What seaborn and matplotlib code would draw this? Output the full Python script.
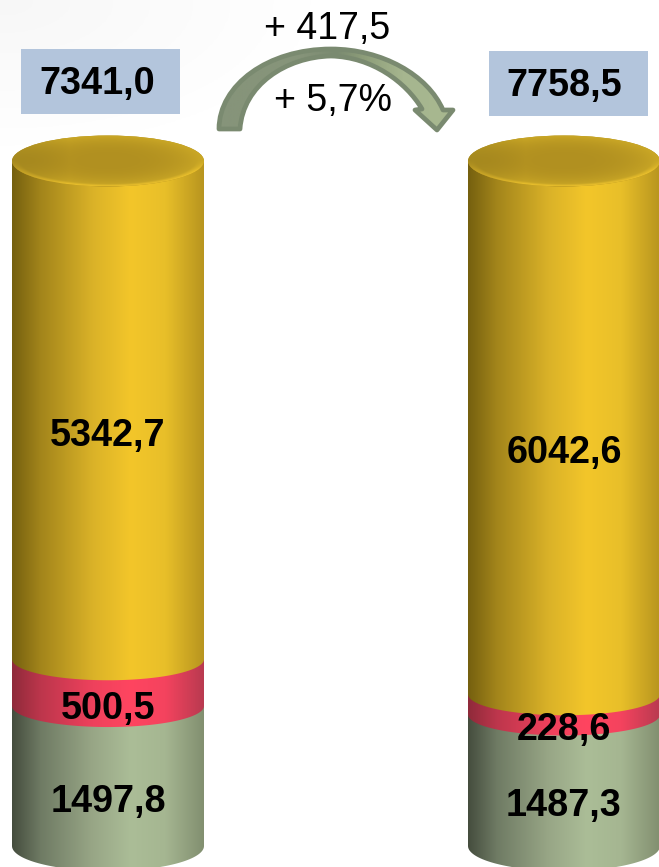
import numpy as np
import pandas as pd
import seaborn as sns
import matplotlib.pyplot as plt
from matplotlib.colors import LinearSegmentedColormap, to_rgb
from matplotlib.patches import Ellipse, PathPatch, Polygon, Rectangle
from matplotlib.path import Path
from matplotlib.transforms import Affine2D

columns = ["first", "second"]
green_values = [1497.8, 1487.3]
red_values = [500.5, 228.6]
yellow_values = [5342.7, 6042.6]
totals = [7341.0, 7758.5]
change_abs = "+ 417,5"
change_pct = "+ 5,7%"

W, H = 659, 867
BASE_PX, TOP_PX = 846, 160
CENTER_L, CENTER_R, BAR_PX = 108, 564, 192

STOPS = [0, 0.15, 0.42, 0.62, 0.8, 1]
YELLOW = ["#75600f", "#a3851b", "#dab228", "#f3c62a", "#e8bf29", "#b8951f"]
RED = ["#8f2a3a", "#bd364c", "#ee415c", "#ff4560", "#f4435e", "#b93a50"]
GREEN = ["#454d3e", "#6f7b64", "#98a686", "#abbd97", "#a5b691", "#828f70"]


def fmt(v):
    return f"{v:.1f}".replace(".", ",")


def cap_image():
    # shaded top of a cylinder: dull middle, lighter edge, bright front rim
    v, u = np.mgrid[1:-1:200j, -1:1:400j]
    r = np.clip(np.hypot(u, v), 0, 1)
    mid, edge, front = [np.array(to_rgb(c)) for c in ("#b19020", "#cba826", "#e8be2c")]
    t = (r ** 3)[..., None]
    img = mid * (1 - t) + edge * t
    rim = (np.clip((r - 0.92) / 0.08, 0, 1) * np.clip(-v * 2.5, 0, 1))[..., None]
    img = img * (1 - rim) + front * rim
    side = np.clip(0.82 + 0.18 * (u + 1) / 0.6, 0, 1)[..., None]
    return np.clip(img * side, 0, 1)


def plot_columns():
    sns.set_theme(style="white")
    plt.rcParams["font.family"] = ["Liberation Sans", "DejaVu Sans"]

    fig = plt.figure(figsize=(W / 100, H / 100), dpi=100, facecolor="white")
    ax = fig.add_axes([0, 0, 1, 1])
    px = Affine2D().scale(1 / W, -1 / H).translate(0, 1) + fig.transFigure

    # faint grey corner of the slide background
    corner = np.zeros((60, 60, 4))
    yy, xx = np.mgrid[0:1:60j, 0:1:60j]
    corner[..., :3] = 0.85
    corner[..., 3] = np.clip(0.2 * (1 - np.hypot(xx, yy)), 0, 1)
    ax.imshow(corner, extent=(0, 320, 150, 0), transform=px, aspect="auto", zorder=0)

    df = pd.DataFrame({"column": columns, "green": green_values, "red": red_values,
                       "yellow": yellow_values, "total": totals})
    for seg in ["green", "red", "yellow"]:
        df[seg + "_pct"] = df[seg] / df["total"] * 100
    df["red_bottom"] = df["green_pct"]
    df["yellow_bottom"] = df["green_pct"] + df["red_pct"]
    df["green_bottom"] = 0.0

    per_pct = (BASE_PX - TOP_PX) / 100
    per_cat = CENTER_R - CENTER_L
    bar_width = BAR_PX / per_cat
    label_shift = 26 / per_pct

    segments = [("green", GREEN, 25), ("red", RED, 21), ("yellow", YELLOW, 21)]
    for z, (seg, colors, bulge) in enumerate(segments):
        cmap = LinearSegmentedColormap.from_list(seg, list(zip(STOPS, colors)))
        n_before = len(ax.patches)
        sns.barplot(data=df, x="column", y=seg + "_pct", bottom=df[seg + "_bottom"].values,
                    width=bar_width, color=colors[3], saturation=1, ax=ax,
                    zorder=2 + z, linewidth=0)
        for bar, (_, row) in zip(ax.patches[n_before:], df.iterrows()):
            x0, w = bar.get_x(), bar.get_width()
            y0, h = bar.get_y(), bar.get_height()
            t = np.linspace(np.pi, 2 * np.pi, 80)
            arc = np.column_stack([x0 + w / 2 + w / 2 * np.cos(t),
                                   y0 + bulge / per_pct * np.sin(t)])
            shape = np.vstack([[x0, y0 + h], arc, [x0 + w, y0 + h]])
            clip = Polygon(shape, closed=True, transform=ax.transData,
                           facecolor="none", edgecolor="none", zorder=2 + z)
            ax.add_patch(clip)
            im = ax.imshow(np.linspace(0, 1, 256)[None, :], cmap=cmap, aspect="auto",
                           extent=(x0, x0 + w, y0 - 5, y0 + h), zorder=2 + z + 0.1)
            im.set_clip_path(clip)
            ax.text(x0 + w / 2, y0 + h / 2 - label_shift, fmt(row[seg]), ha="center",
                    va="center", fontsize=27.2, fontweight="bold", color="black", zorder=10)

    # top caps of the cylinders
    cap_h = 51 / per_pct
    for i in range(len(columns)):
        cap = Ellipse((i, 100 - 1 / per_pct), bar_width, cap_h, facecolor="#b08f1e",
                      edgecolor="none", zorder=6)
        ax.add_patch(cap)
        im = ax.imshow(cap_image(), aspect="auto", zorder=6.1,
                       extent=(i - bar_width / 2, i + bar_width / 2,
                               100 - 1 / per_pct - cap_h / 2, 100 - 1 / per_pct + cap_h / 2))
        im.set_clip_path(cap)

    # boxes with the totals
    boxes = [(21, 49, 159, 65, 97, 84), (489, 51, 159, 65, 564, 86)]
    for total, (bx, by, bw, bh, tx, ty) in zip(totals, boxes):
        ax.add_patch(Rectangle((bx, by), bw, bh, transform=px, facecolor="#b3c5dc",
                               edgecolor="none", zorder=7))
        ax.text(tx, ty, fmt(total), transform=px, ha="center", va="center", fontsize=27.2,
                fontweight="bold", color="black", zorder=10)

    # curved arrow between the columns
    verts = [(219, 129),
             (219, 85), (268, 49), (331, 49),
             (382, 49), (428, 75), (443, 110),
             (453, 110), (437, 130), (415, 110), (422, 109),
             (406, 82), (372, 57), (331, 56),
             (286, 57), (243, 85), (240, 129),
             (219, 129)]
    codes = [Path.MOVETO] + [Path.CURVE4] * 6 + [Path.LINETO] * 4 + [Path.CURVE4] * 6 + [Path.CLOSEPOLY]
    arrow = PathPatch(Path(verts, codes), transform=px, facecolor="none",
                      edgecolor="#7a8a70", linewidth=3.4, joinstyle="round", zorder=8.2)
    ax.add_patch(arrow)
    arrow_cmap = LinearSegmentedColormap.from_list(
        "arrow", [(0, "#86947a"), (0.35, "#86947a"), (0.5, "#7a8a70"), (0.62, "#8e9e7a"),
                  (0.78, "#a6b68f"), (1, "#a8b890")])
    im = ax.imshow(np.linspace(0, 1, 256)[None, :], cmap=arrow_cmap, aspect="auto",
                   extent=(217, 456, 132, 47), transform=px, zorder=8)
    im.set_clip_path(arrow)

    ax.text(327, 29, change_abs, transform=px, ha="center", va="center", fontsize=27,
            color="black", zorder=10)
    ax.text(333, 101, change_pct, transform=px, ha="center", va="center", fontsize=27,
            color="black", zorder=10)

    ax.set_xlim(-CENTER_L / per_cat, (W - CENTER_L) / per_cat)
    ax.set_ylim(-(H - BASE_PX) / per_pct, BASE_PX / per_pct)
    ax.axis("off")

    plt.savefig("out.png", dpi=100)


if __name__ == "__main__":
    plot_columns()
